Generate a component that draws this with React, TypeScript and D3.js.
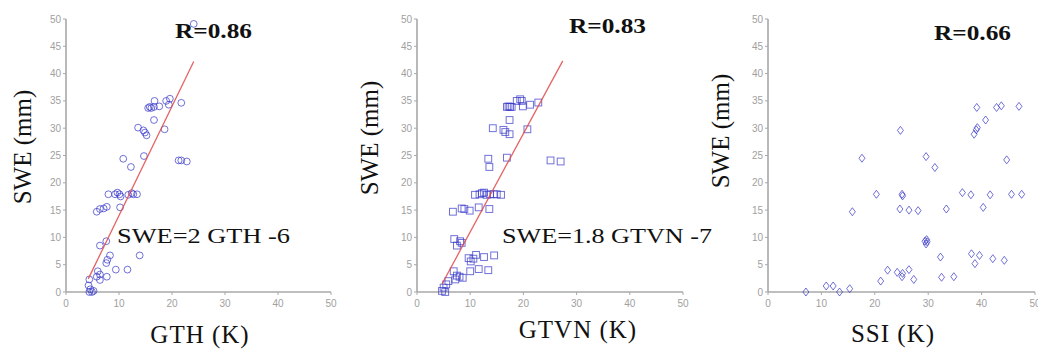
import * as d3 from 'd3'

// ---- data ----
const yTickValues = [0, 5, 10, 15, 20, 25, 30, 35, 40, 45, 50]
const xTickValues = [0, 10, 20, 30, 40, 50]

// GTH (K) vs SWE (mm)
const gthPoints: [number, number][] = [
  [24.1, 49.1], [21.75, 34.65], [19.6, 35.4], [18.9, 35.0], [19.4, 34.3], [17.6, 34.0],
  [16.7, 35.0], [16.6, 33.9], [15.8, 33.9], [16.1, 33.7], [15.5, 33.7], [16.6, 31.5],
  [13.6, 30.1], [14.6, 29.6], [14.9, 29.2], [15.2, 28.7], [18.6, 29.8], [14.7, 24.9],
  [10.8, 24.4], [12.25, 22.9], [21.25, 24.1], [21.75, 24.1], [22.8, 23.9],
  [8.0, 17.9], [9.25, 17.9], [9.7, 18.2], [10.1, 17.9], [10.3, 17.5], [11.75, 17.8],
  [12.4, 18.1], [12.7, 17.9], [13.4, 17.9], [5.8, 14.7], [6.4, 15.2], [7.1, 15.3],
  [7.7, 15.6], [10.2, 15.5], [6.4, 8.5], [7.6, 9.3], [8.3, 6.7], [7.8, 5.9], [7.6, 5.3],
  [9.4, 4.1], [11.6, 4.1], [13.9, 6.7], [6.0, 3.8], [6.4, 3.2], [5.8, 2.8], [7.7, 2.8],
  [4.4, 2.3], [6.4, 2.2], [4.25, 1.2], [4.6, 0.5], [4.9, 0], [5.2, 0.2], [4.4, 0],
]

// GTVN (K) vs SWE (mm)
const gtvnPoints: [number, number][] = [
  [13.4, 24.4], [13.6, 22.9], [16.9, 24.6], [25.1, 24.1], [27.0, 23.9], [14.25, 30.0],
  [16.25, 29.7], [16.6, 29.3], [17.4, 28.9], [17.4, 31.5], [20.75, 29.8], [16.9, 33.9],
  [17.2, 34.0], [17.5, 33.9], [17.8, 33.9], [19.4, 35.3], [19.7, 35.0], [19.9, 34.0],
  [18.75, 35.0], [21.25, 34.3], [22.8, 34.7],
  [10.9, 17.8], [11.75, 17.9], [12.2, 18.1], [12.6, 18.2], [13.1, 17.8], [13.75, 17.9],
  [14.4, 17.9], [15.0, 17.9], [15.8, 17.8], [6.75, 14.7], [8.4, 15.3], [8.9, 15.2],
  [9.9, 14.9], [11.6, 15.5], [13.6, 15.2], [7.0, 9.7], [7.5, 8.5], [8.1, 9.3], [8.4, 9.0],
  [9.7, 6.2], [10.1, 5.6], [10.6, 6.1], [11.1, 6.8], [12.6, 6.4], [14.5, 6.7], [10.0, 3.8],
  [11.6, 4.2], [13.4, 4.0], [6.9, 3.8], [7.5, 3.0], [8.0, 2.8], [7.2, 2.3], [8.6, 2.6],
  [5.9, 2.0], [5.5, 1.4], [5.0, 0.8], [4.7, 0.2], [5.3, 0],
]

// SSI (K) vs SWE (mm)
const ssiPoints: [number, number][] = [
  [7.1, 0], [10.9, 1.1], [12.2, 1.1], [13.4, 0], [15.3, 0.6], [15.8, 14.7], [20.3, 17.9],
  [21.1, 2.0], [22.4, 4.0], [24.2, 3.6], [24.7, 15.2], [25.1, 17.9], [25.2, 17.6],
  [25.1, 2.8], [25.2, 3.4], [26.4, 4.1], [26.4, 15.0], [27.3, 2.3], [28.1, 14.9],
  [29.4, 9.3], [29.7, 9.6], [29.6, 8.8], [29.8, 9.2], [32.3, 6.4], [32.5, 2.7],
  [33.4, 15.2], [34.8, 2.8], [36.4, 18.2], [38.0, 17.8], [38.1, 7.0], [38.75, 5.2],
  [39.6, 6.7], [40.3, 15.5], [41.6, 17.8], [42.1, 6.1], [44.25, 5.8], [45.6, 17.9],
  [47.5, 17.9], [17.6, 24.5], [24.8, 29.6], [29.6, 24.8], [31.25, 22.8], [39.1, 33.8],
  [38.6, 28.9], [39.0, 29.7], [39.2, 30.1], [40.75, 31.5], [42.8, 33.8], [43.7, 34.1],
  [44.7, 24.2], [47.0, 34.0],
]

// regression lines: [slope, intercept, x start, x end]
const gthFit = [2, -6, 4.2, 24.1]
const gtvnFit = [1.8, -7, 4.7, 27.4]

const correlations = ['R=0.86', 'R=0.83', 'R=0.66']
const xLabels = ['GTH (K)', 'GTVN (K)', 'SSI (K)']
const equations = ['SWE=2 GTH -6', 'SWE=1.8 GTVN -7', '']

// ---- layout ----
const W = 1038, H = 350
const yScale = d3.scaleLinear().domain([0, 50]).range([292, 19])
const blue = '#3535c8'
const serif = '"Liberation Serif", "Times New Roman", serif'
const sans = '"Liberation Sans", Arial, sans-serif'

const panels = [
  { x0: 66, x1: 331, points: gthPoints, marker: 'circle', fit: gthFit,
    yLab: [22, 147], rPos: [175, 38], eqPos: [117, 243], eqLen: 173, xLab: [200, 343] },
  { x0: 417, x1: 683, points: gtvnPoints, marker: 'square', fit: gtvnFit,
    yLab: [369, 138], rPos: [569, 33], eqPos: [502, 243], eqLen: 210, xLab: [578, 338] },
  { x0: 768, x1: 1035, points: ssiPoints, marker: 'diamond', fit: null,
    yLab: [720, 131], rPos: [934, 40], eqPos: [0, 0], eqLen: 0, xLab: [893, 342] },
]

function Marker({ kind, cx, cy }: { kind: string; cx: number; cy: number }) {
  const common = { fill: 'none', stroke: blue, strokeWidth: 1, strokeOpacity: 0.7 }
  if (kind === 'circle') return <circle cx={cx} cy={cy} r={3.4} {...common} />
  if (kind === 'square') return <rect x={cx - 3.4} y={cy - 3.4} width={6.8} height={6.8} {...common} />
  const p = d3.path()
  p.moveTo(cx, cy - 4); p.lineTo(cx + 3, cy); p.lineTo(cx, cy + 4); p.lineTo(cx - 3, cy); p.closePath()
  return <path d={p.toString()} {...common} />
}

function Panel({ cfg, i }: { cfg: typeof panels[number]; i: number }) {
  const x = d3.scaleLinear().domain([0, 50]).range([cfg.x0, cfg.x1])
  const axisColor = '#a8a8a8'
  const y0 = yScale(0)
  let fitLine = null
  if (cfg.fit) {
    const [m, b, a, e] = cfg.fit
    const line = d3.line<number>().x(v => x(v)).y(v => yScale(m * v + b))
    fitLine = <path d={line([a, e]) || ''} stroke="#e04848" strokeWidth={1.3} fill="none" opacity={0.85} />
  }
  return (
    <g>
      {/* axes */}
      <line x1={cfg.x0} x2={cfg.x0} y1={yScale(50)} y2={y0} stroke={axisColor} strokeWidth={1.6} />
      <line x1={cfg.x0} x2={cfg.x1} y1={y0} y2={y0} stroke={axisColor} strokeWidth={1.6} />
      {yTickValues.map(t => (
        <g key={'y' + t}>
          <line x1={cfg.x0 - 3} x2={cfg.x0} y1={yScale(t)} y2={yScale(t)} stroke={axisColor} />
          <text x={cfg.x0 - 5} y={yScale(t)} dy="0.35em" textAnchor="end" fontSize={10}
            fontFamily={sans} fill="#a0a0a0">{t}</text>
        </g>
      ))}
      {xTickValues.map(t => (
        <g key={'x' + t}>
          <line x1={x(t)} x2={x(t)} y1={y0} y2={y0 + 3} stroke={axisColor} />
          <text x={x(t)} y={y0 + 11} dy="0.35em" textAnchor="middle" fontSize={10}
            fontFamily={sans} fill="#a0a0a0">{t}</text>
        </g>
      ))}
      {/* data */}
      {cfg.points.map((d, k) => <Marker key={k} kind={cfg.marker} cx={x(d[0])} cy={yScale(d[1])} />)}
      {fitLine}
      {/* labels */}
      <text transform={`translate(${cfg.yLab[0]},${cfg.yLab[1]}) rotate(-90)`} textAnchor="middle"
        dy="0.35em" fontSize={25} fontFamily={serif} fill="#111">SWE (mm)</text>
      <text x={cfg.xLab[0]} y={cfg.xLab[1]} textAnchor="middle" fontSize={25} fontFamily={serif}
        letterSpacing={1} fill="#111">{xLabels[i]}</text>
      <text x={cfg.rPos[0]} y={cfg.rPos[1]} fontSize={21} fontWeight="bold"
        fontFamily={serif} fill="#111" textLength={77} lengthAdjust="spacingAndGlyphs">{correlations[i]}</text>
      {equations[i] && (
        <text x={cfg.eqPos[0]} y={cfg.eqPos[1]} fontSize={21} fontFamily={serif} fill="#111"
          textLength={cfg.eqLen} lengthAdjust="spacingAndGlyphs">{equations[i]}</text>
      )}
    </g>
  )
}

export default function App() {
  return (
    <svg width={W} height={H} style={{ position: 'absolute', left: 0, top: 0, background: '#fff' }}>
      <rect width={W} height={H} fill="#fff" />
      {panels.map((p, i) => <Panel key={i} cfg={p} i={i} />)}
    </svg>
  )
}
